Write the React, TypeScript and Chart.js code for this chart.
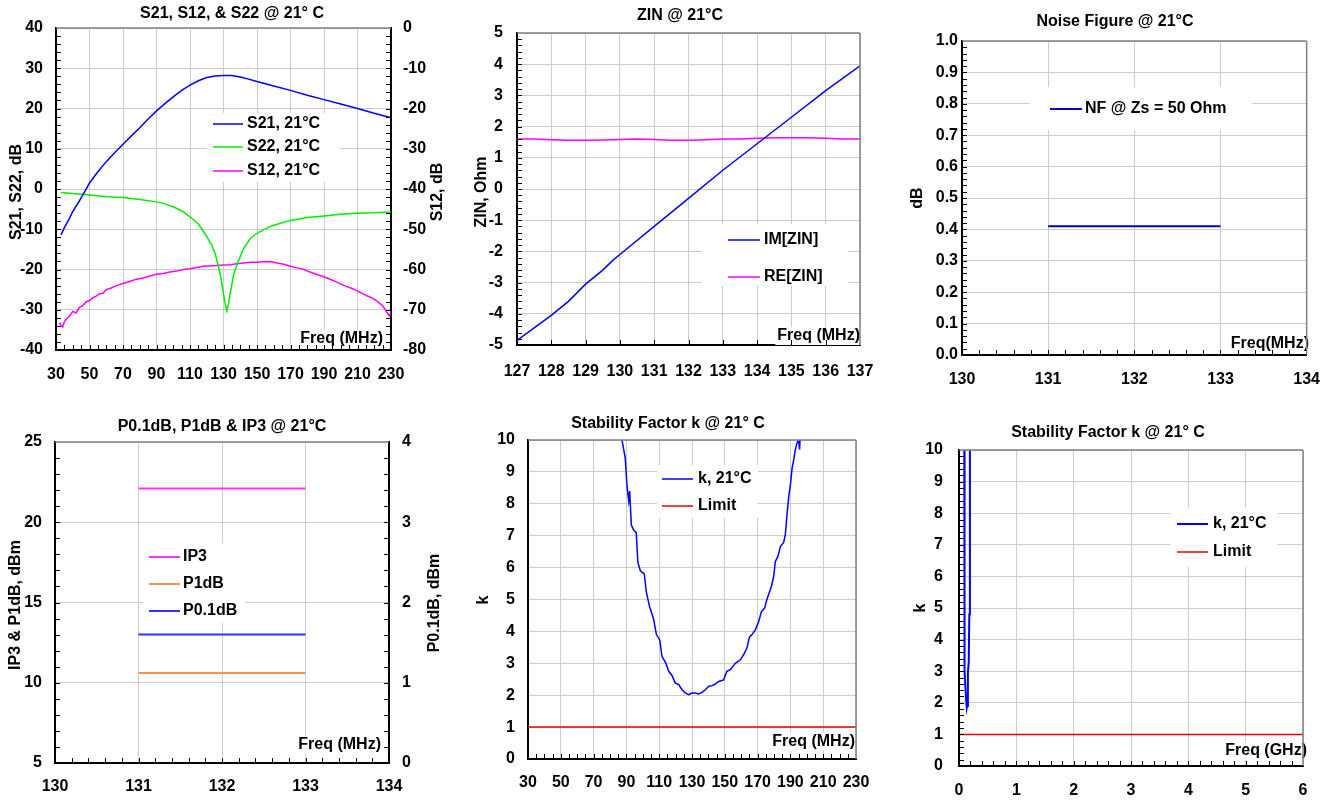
import React, { useEffect, useRef } from "react";
import { Chart, registerables } from "chart.js";

Chart.register(...registerables);

const W = 1335;
const H = 800;
const FAMILY = "'Liberation Sans', Arial, Helvetica, sans-serif";
const GRID = "#cccccc";

/* ---------- Panel 1: S21, S12, S22 ---------- */
const S_X_AXIS = [30, 230, 20];
const S_Y_LEFT = [-40, 40, 10];
const S_Y_RIGHT = [-80, 0, 10];
const S21_FREQ = [33, 35, 38, 40, 43, 45, 47, 50, 55, 60, 65, 70, 75, 80, 85, 90, 95, 100, 105, 110, 115, 120, 125, 130, 135, 140, 145, 150, 160, 170, 180, 190, 200, 210, 220, 230];
const S21_DB = [-11.4, -9.6, -7.3, -5.6, -3.6, -2.2, -0.8, 1.5, 4.3, 6.8, 9.0, 11.1, 13.2, 15.2, 17.4, 19.4, 21.2, 22.9, 24.5, 25.8, 26.9, 27.7, 28.1, 28.2, 28.2, 27.8, 27.3, 26.7, 25.6, 24.5, 23.3, 22.2, 21.1, 20.0, 18.8, 17.7];
const S22_FREQ = [33, 40, 50, 60, 70, 80, 90, 95, 100, 105, 110, 115, 120, 123, 125, 128, 130, 131, 132, 133, 134, 136, 138, 140, 142, 146, 150, 155, 160, 170, 180, 190, 200, 210, 220, 230];
const S22_DB = [-0.9, -1.1, -1.5, -1.9, -2.1, -2.6, -3.2, -3.7, -4.4, -5.4, -6.9, -8.7, -11.8, -14.0, -16.0, -21.0, -26.0, -28.5, -30.3, -28.5, -26.0, -21.4, -18.8, -16.8, -14.8, -12.3, -11.0, -9.9, -9.0, -7.8, -7.1, -6.7, -6.3, -6.0, -5.9, -5.7];
const S12_FREQ = [32, 33, 34, 35, 36, 38, 40, 42, 44, 46, 48, 50, 52, 54, 56, 58, 60, 63, 66, 70, 74, 78, 82, 86, 90, 94, 98, 102, 106, 110, 114, 118, 122, 126, 130, 134, 138, 142, 146, 150, 154, 158, 162, 166, 170, 174, 178, 182, 186, 190, 194, 198, 202, 206, 210, 213, 216, 219, 222, 225, 227, 228, 229, 230];
const S12_DB = [-73.2, -73.8, -74.3, -73.0, -72.4, -71.6, -70.4, -70.8, -69.4, -69.0, -68.0, -67.7, -67.0, -66.6, -66.0, -65.9, -65.0, -64.6, -64.0, -63.5, -63.0, -62.4, -62.1, -61.6, -61.2, -61.0, -60.6, -60.4, -60.0, -59.8, -59.5, -59.2, -59.1, -59.0, -58.9, -58.8, -58.6, -58.4, -58.2, -58.2, -58.1, -58.0, -58.4, -58.7, -59.2, -59.6, -60.0, -60.7, -61.3, -61.8, -62.5, -63.2, -64.0, -64.6, -65.3, -66.0, -66.6, -67.1, -68.0, -69.0, -70.2, -71.0, -71.5, -70.5];

/* ---------- Panel 2: ZIN ---------- */
const ZIN_X_AXIS = [127, 137, 1];
const ZIN_Y_AXIS = [-5, 5, 1];
const IM_FREQ = [127, 127.5, 128, 128.5, 129, 129.5, 129.8, 130, 131, 132, 133, 134, 135, 136, 137];
const IM_ZIN = [-4.85, -4.45, -4.05, -3.6, -3.05, -2.6, -2.28, -2.1, -1.2, -0.3, 0.6, 1.45, 2.3, 3.15, 3.95];
const RE_FREQ = [127, 127.5, 128, 128.5, 129, 129.5, 130, 130.5, 131, 131.5, 132, 132.5, 133, 133.5, 134, 134.5, 135, 135.5, 136, 136.5, 137];
const RE_ZIN = [1.6, 1.6, 1.58, 1.56, 1.56, 1.57, 1.59, 1.6, 1.59, 1.56, 1.56, 1.58, 1.6, 1.6, 1.63, 1.64, 1.64, 1.64, 1.63, 1.6, 1.6];

/* ---------- Panel 3: Noise figure ---------- */
const NF_X_AXIS = [130, 134, 1];
const NF_Y_AXIS = [0, 1, 0.1];
const NF_FREQ = [131, 133];
const NF_DB = [0.41, 0.41];

/* ---------- Panel 4: P0.1dB, P1dB, IP3 ---------- */
const P_X_AXIS = [130, 134, 1];
const P_Y_LEFT = [5, 25, 5];
const P_Y_RIGHT = [0, 4, 1];
const P_FREQ = [131, 133];
const IP3_DBM = [22.1, 22.1];
const P1DB_DBM = [10.6, 10.6];
const P01DB_DBM = [1.6, 1.6];

/* ---------- Panel 5: k (MHz) ---------- */
const K_X_AXIS = [30, 230, 20];
const K_Y_AXIS = [0, 10, 1];
const K_FREQ = [86.5, 87.3, 89.3, 90.4, 91.4, 92.0, 92.4, 93.0, 94.4, 96.0, 97.0, 98.5, 100.9, 102.2, 104.0, 106.6, 108.3, 110.3, 111.7, 114.1, 115.8, 117.8, 119.8, 121.9, 123.9, 125.9, 128.0, 130.0, 132.0, 134.0, 136.1, 138.1, 140.2, 142.2, 144.2, 146.3, 149.3, 151.3, 153.4, 156.4, 159.5, 161.5, 163.5, 165.0, 166.6, 168.6, 170.7, 172.3, 174.3, 175.7, 178.4, 179.8, 180.8, 182.4, 183.9, 185.9, 186.9, 188.0, 189.0, 190.0, 191.0, 192.0, 193.0, 194.0, 195.0, 195.6, 196.2, 197.0];
const K_VAL = [10.6, 10.0, 9.43, 8.54, 8.1, 8.4, 7.96, 7.34, 7.18, 7.1, 6.16, 5.9, 5.8, 5.22, 4.8, 4.38, 3.9, 3.74, 3.22, 3.0, 2.75, 2.62, 2.38, 2.33, 2.17, 2.07, 2.02, 2.07, 2.07, 2.04, 2.09, 2.17, 2.28, 2.3, 2.35, 2.43, 2.48, 2.75, 2.8, 3.0, 3.11, 3.27, 3.48, 3.82, 3.9, 4.05, 4.31, 4.62, 4.73, 5.01, 5.41, 5.72, 6.19, 6.35, 6.66, 6.79, 7.03, 7.7, 8.23, 8.59, 9.11, 9.37, 9.69, 9.9, 10.0, 9.7, 10.3, 10.8];
const LIMIT_FREQ = [30, 230];
const LIMIT_VAL = [1, 1];

/* ---------- Panel 6: k (GHz) ---------- */
const KG_X_AXIS = [0, 6, 1];
const KG_Y_AXIS = [0, 10, 1];
const KG_FREQ = [0.092, 0.094, 0.1, 0.12, 0.135, 0.14, 0.155, 0.17, 0.18, 0.19];
const KG_VAL = [10.5, 5.5, 3.0, 2.2, 1.85, 1.9, 2.95, 3.3, 4.8, 10.5];
const LIMIT_GHZ_FREQ = [0, 6];
const LIMIT_GHZ_VAL = [1, 1];

type AxisSpec = { range: number[]; minor?: number; pad: number; decimals?: number };
type Series = { label: string; xs: number[]; ys: number[]; color: string; width: number; axis?: string };
type PanelSpec = {
  area: [number, number, number, number];
  title: [string, number, number];
  x: AxisSpec;
  y: AxisSpec;
  y2?: AxisSpec;
  yTitles: [string, number, number][];
  freq: [string, number, number];
  series: Series[];
  legend: { box: [number, number, number, number]; line: [number, number]; textX: number; rows: number[] };
};

const TICK_SIZE = 16;

const PANELS: PanelSpec[] = [
  {
    area: [56, 28, 391, 350],
    title: ["S21, S12, & S22 @ 21° C", 232, 14],
    x: { range: S_X_AXIS, minor: 5, pad: 15 },
    y: { range: S_Y_LEFT, minor: 2, pad: 13 },
    y2: { range: S_Y_RIGHT, minor: 2, pad: 12 },
    yTitles: [["S21, S22, dB", 17, 192], ["S12, dB", 438, 192]],
    freq: ["Freq (MHz)", 383, 339],
    series: [
      { label: "S21, 21°C", xs: S21_FREQ, ys: S21_DB, color: "#0000ff", width: 1.5 },
      { label: "S22, 21°C", xs: S22_FREQ, ys: S22_DB, color: "#00ee00", width: 1.5 },
      { label: "S12, 21°C", xs: S12_FREQ, ys: S12_DB, color: "#ff00ff", width: 1.5, axis: "y2" },
    ],
    legend: { box: [207, 113, 133, 69], line: [213, 243], textX: 247, rows: [124, 147, 171] },
  },
  {
    area: [517, 33, 860, 345],
    title: ["ZIN @ 21°C", 680, 16],
    x: { range: ZIN_X_AXIS, minor: 1, pad: 17 },
    y: { range: ZIN_Y_AXIS, minor: 0.2, pad: 14 },
    yTitles: [["ZIN, Ohm", 482, 192]],
    freq: ["Freq (MHz)", 860, 336],
    series: [
      { label: "IM[ZIN]", xs: IM_FREQ, ys: IM_ZIN, color: "#0000ff", width: 1.5 },
      { label: "RE[ZIN]", xs: RE_FREQ, ys: RE_ZIN, color: "#ff00ff", width: 1.5 },
    ],
    legend: { box: [702, 224, 146, 62], line: [728, 760], textX: 764, rows: [240, 277] },
  },
  {
    area: [962, 41, 1307, 355],
    title: ["Noise Figure @ 21°C", 1115, 22],
    x: { range: NF_X_AXIS, minor: 0.2, pad: 15 },
    y: { range: NF_Y_AXIS, minor: 0.02, pad: 4, decimals: 1 },
    yTitles: [["dB", 918, 198]],
    freq: ["Freq(MHz)", 1309, 344],
    series: [{ label: "NF @ Zs = 50 Ohm", xs: NF_FREQ, ys: NF_DB, color: "#0000cc", width: 2 }],
    legend: { box: [1030, 87, 222, 43], line: [1050, 1082], textX: 1085, rows: [109] },
  },
  {
    area: [55, 442, 389, 763],
    title: ["P0.1dB, P1dB & IP3 @ 21°C", 222, 427],
    x: { range: P_X_AXIS, minor: 0.2, pad: 14 },
    y: { range: P_Y_LEFT, minor: 1, pad: 13 },
    y2: { range: P_Y_RIGHT, minor: 0.2, pad: 13 },
    yTitles: [["IP3 & P1dB, dBm", 16, 605], ["P0.1dB, dBm", 435, 603]],
    freq: ["Freq (MHz)", 381, 745],
    series: [
      { label: "IP3", xs: P_FREQ, ys: IP3_DBM, color: "#ff33ff", width: 2 },
      { label: "P1dB", xs: P_FREQ, ys: P1DB_DBM, color: "#ff9050", width: 2 },
      { label: "P0.1dB", xs: P_FREQ, ys: P01DB_DBM, color: "#3333ff", width: 2, axis: "y2" },
    ],
    legend: { box: [143, 543, 102, 80], line: [149, 180], textX: 183, rows: [557, 584, 611] },
  },
  {
    area: [528, 440, 856, 759],
    title: ["Stability Factor k @ 21° C", 668, 424],
    x: { range: K_X_AXIS, minor: 5, pad: 14 },
    y: { range: K_Y_AXIS, pad: 13 },
    yTitles: [["k", 484, 600]],
    freq: ["Freq (MHz)", 855, 742],
    series: [
      { label: "k, 21°C", xs: K_FREQ, ys: K_VAL, color: "#0000ff", width: 1.5 },
      { label: "Limit", xs: LIMIT_FREQ, ys: LIMIT_VAL, color: "#ee0000", width: 1.5 },
    ],
    legend: { box: [657, 465, 101, 53], line: [662, 693], textX: 698, rows: [479, 506] },
  },
  {
    area: [959, 450, 1303, 766],
    title: ["Stability Factor k @ 21° C", 1108, 433],
    x: { range: KG_X_AXIS, minor: 0.2, pad: 15 },
    y: { range: KG_Y_AXIS, minor: 0.2, pad: 16 },
    yTitles: [["k", 921, 608]],
    freq: ["Freq (GHz)", 1307, 751],
    series: [
      { label: "k, 21°C", xs: KG_FREQ, ys: KG_VAL, color: "#0000ff", width: 2 },
      { label: "Limit", xs: LIMIT_GHZ_FREQ, ys: LIMIT_GHZ_VAL, color: "#ee0000", width: 1.5 },
    ],
    legend: { box: [1170, 508, 108, 59], line: [1177, 1208], textX: 1213, rows: [524, 552] },
  },
];

function axisOpts(a: AxisSpec, position: string, fit: (s: any) => void, gridOn: boolean) {
  return {
    type: "linear",
    position,
    min: a.range[0],
    max: a.range[1],
    ticks: {
      stepSize: a.range[2],
      autoSkip: false,
      maxRotation: 0,
      minRotation: 0,
      padding: a.pad,
      color: "#000",
      font: { family: FAMILY, size: TICK_SIZE, weight: "bold" },
      callback: (v: any) =>
        a.decimals ? Number(v).toFixed(a.decimals) : String(Math.round(Number(v) * 1000) / 1000),
    },
    grid: { color: GRID, lineWidth: 1, drawTicks: false, drawOnChartArea: gridOn },
    border: { display: true, color: "#000", width: 2 },
    afterFit: fit,
  };
}

function decor(p: PanelSpec) {
  return {
    id: "decor",
    afterDraw(chart: any) {
      const ctx = chart.ctx as CanvasRenderingContext2D;
      const { left: l, right: r, top: t, bottom: b } = chart.chartArea;
      ctx.save();
      ctx.font = `bold 16px ${FAMILY}`;
      ctx.fillStyle = "#000";

      // chart title
      ctx.textAlign = "center";
      ctx.textBaseline = "middle";
      ctx.fillText(p.title[0], p.title[1], p.title[2]);

      // axis titles (rotated, reading bottom to top)
      for (const [txt, cx, cy] of p.yTitles) {
        ctx.save();
        ctx.translate(cx, cy);
        ctx.rotate(-Math.PI / 2);
        ctx.textAlign = "center";
        ctx.textBaseline = "middle";
        ctx.fillText(txt, 0, 0);
        ctx.restore();
      }

      // in-plot frequency label
      const [ftxt, fr, fcy] = p.freq;
      const fw = ctx.measureText(ftxt).width;
      ctx.fillStyle = "#fff";
      ctx.fillRect(fr - fw - 2, fcy - 9, fw + 3, 18);
      ctx.fillStyle = "#000";
      ctx.textAlign = "right";
      ctx.textBaseline = "middle";
      ctx.fillText(ftxt, fr, fcy);

      // legend
      const lg = p.legend;
      ctx.fillStyle = "#fff";
      ctx.fillRect(lg.box[0], lg.box[1], lg.box[2], lg.box[3]);
      p.series.forEach((s, i) => {
        const ry = lg.rows[i];
        if (ry === undefined) return;
        ctx.strokeStyle = s.color;
        ctx.lineWidth = s.width;
        ctx.beginPath();
        ctx.moveTo(lg.line[0], ry);
        ctx.lineTo(lg.line[1], ry);
        ctx.stroke();
        ctx.fillStyle = "#000";
        ctx.textAlign = "left";
        ctx.textBaseline = "middle";
        ctx.fillText(s.label, lg.textX, ry);
      });

      // frame (top, and right when no secondary axis)
      ctx.strokeStyle = "#808080";
      ctx.lineWidth = 1.5;
      ctx.beginPath();
      ctx.moveTo(l, t);
      ctx.lineTo(r, t);
      if (!p.y2) {
        ctx.moveTo(r, t);
        ctx.lineTo(r, b);
      }
      ctx.stroke();

      // inward tick marks
      ctx.strokeStyle = "#000";
      ctx.lineWidth = 1;
      const tickSet = (a: AxisSpec | undefined, scale: any, draw: (px: number) => void) => {
        if (!a || !a.minor || !scale) return;
        const mn = a.range[0];
        const mx = a.range[1];
        const n = Math.round((mx - mn) / a.minor);
        for (let i = 1; i < n; i++) {
          const px = scale.getPixelForValue(mn + i * a.minor);
          draw(Math.round(px) + 0.5);
        }
      };
      ctx.beginPath();
      tickSet(p.x, chart.scales.x, (px) => {
        ctx.moveTo(px, b);
        ctx.lineTo(px, b - 5);
      });
      tickSet(p.y, chart.scales.y, (py) => {
        ctx.moveTo(l, py);
        ctx.lineTo(l + 5, py);
      });
      tickSet(p.y2, chart.scales.y2, (py) => {
        ctx.moveTo(r, py);
        ctx.lineTo(r - 5, py);
      });
      ctx.stroke();
      ctx.restore();
    },
  };
}

function buildConfig(p: PanelSpec): any {
  const [l, t, r, b] = p.area;
  const AX = 50;
  const XH = Math.min(45, H - b);
  const scales: any = {
    x: axisOpts(p.x, "bottom", (s) => { s.height = XH; }, true),
    y: axisOpts(p.y, "left", (s) => { s.width = AX; }, true),
  };
  if (p.y2) scales.y2 = axisOpts(p.y2, "right", (s) => { s.width = AX; }, false);
  return {
    type: "line",
    data: {
      datasets: p.series.map((s) => ({
        label: s.label,
        data: s.xs.map((x, i) => ({ x, y: s.ys[i] })),
        borderColor: s.color,
        backgroundColor: s.color,
        borderWidth: s.width,
        pointRadius: 0,
        tension: 0,
        fill: false,
        yAxisID: s.axis || "y",
      })),
    },
    options: {
      responsive: false,
      animation: false,
      events: [],
      layout: {
        padding: { left: l - AX, top: t, right: W - r - (p.y2 ? AX : 0), bottom: H - b - XH },
      },
      plugins: { legend: { display: false }, title: { display: false }, tooltip: { enabled: false } },
      scales,
    },
    plugins: [decor(p)],
  };
}

function Panel({ spec }: { spec: PanelSpec }) {
  const ref = useRef<HTMLCanvasElement>(null);
  useEffect(() => {
    if (!ref.current) return;
    const chart = new Chart(ref.current, buildConfig(spec));
    return () => chart.destroy();
  }, [spec]);
  return (
    <canvas
      ref={ref}
      width={W}
      height={H}
      style={{ position: "absolute", left: 0, top: 0, width: W, height: H }}
    />
  );
}

export default function App() {
  return (
    <div style={{ position: "absolute", left: 0, top: 0, width: W, height: H, background: "#fff", overflow: "hidden" }}>
      {PANELS.map((p, i) => (
        <Panel key={i} spec={p} />
      ))}
    </div>
  );
}
